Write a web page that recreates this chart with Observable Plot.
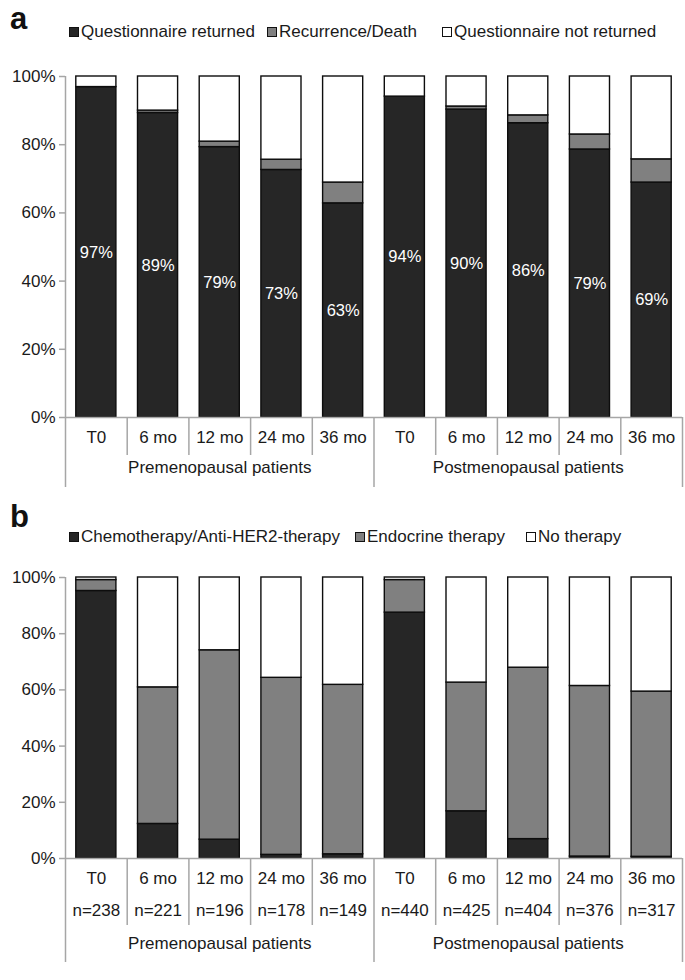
<!DOCTYPE html>
<html><head><meta charset="utf-8">
<script src="https://cdn.jsdelivr.net/npm/d3@7"></script>
<script src="https://cdn.jsdelivr.net/npm/@observablehq/plot@0.6"></script>
<style>
body{margin:0;background:#fff;font-family:"Liberation Sans",Arial,sans-serif;color:#1a1a1a;}
.panel{position:relative;width:685px;height:490px;overflow:hidden;}
.letter{position:absolute;font-weight:bold;font-size:31px;left:10px;line-height:30px;color:#111;}
.item{position:absolute;font-size:17px;line-height:18px;white-space:nowrap;}
.sw{display:inline-block;width:8px;height:8px;border:1.5px solid #111;margin-right:2px;vertical-align:0px;}
svg{display:block;position:absolute;left:0;top:0;}
</style>
</head><body>
<div id="pa" class="panel"></div>
<div id="pb" class="panel"></div>
<script>
// ---- data ----
const timepoints = ["T0", "6 mo", "12 mo", "24 mo", "36 mo"];
const groups = ["Premenopausal patients", "Postmenopausal patients"];

const seriesA = ["Questionnaire returned", "Recurrence/Death", "Questionnaire not returned"];
const returnedPre  = [96.9, 89.3, 79.3, 72.6, 62.8];
const recurrencePre  = [0, 0.7, 1.6, 3.0, 6.1];
const returnedPost = [94.1, 90.3, 86.3, 78.6, 68.9];
const recurrencePost = [0, 0.9, 2.3, 4.4, 6.8];

const seriesB = ["Chemotherapy/Anti-HER2-therapy", "Endocrine therapy", "No therapy"];
const chemoPre  = [95.2, 12.3, 6.7, 1.3, 1.5];
const endoPre   = [3.9, 48.6, 67.4, 63.0, 60.3];
const chemoPost = [87.5, 16.8, 6.9, 0.7, 0.6];
const endoPost  = [11.6, 45.8, 61.0, 60.7, 58.8];
const nPre  = [238, 221, 196, 178, 149];
const nPost = [440, 425, 404, 376, 317];

const yTicks = [0, 20, 40, 60, 80, 100];

// ---- styling ----
const fills = ["#262626", "#808080", "#ffffff"];
const axisGray = "#a6a6a6";
const font = {fontFamily: "Liberation Sans, Arial, sans-serif", fontSize: "17px", color: "#1a1a1a", background: "transparent"};

function buildRows(seriesNames, pre, post) {
  const rows = [];
  [pre, post].forEach((vals, g) => {
    timepoints.forEach((tp, t) => {
      const i = g * timepoints.length + t;
      const v0 = vals[0][t], v1 = vals[1][t];
      const parts = [v0, v1, Math.max(0, 100 - v0 - v1)];
      let acc = 0;
      parts.forEach((v, s) => {
        rows.push({i, g, tp, series: seriesNames[s], value: v, y1: acc, y2: acc + v});
        acc += v;
      });
    });
  });
  return rows;
}

const rowsA = buildRows(seriesA, [returnedPre, recurrencePre], [returnedPost, recurrencePost]);
const rowsB = buildRows(seriesB, [chemoPre, endoPre], [chemoPost, endoPost]);

const cats = [];
groups.forEach((gName, g) => timepoints.forEach((tp, t) => cats.push({i: g * timepoints.length + t, tp, g,
  n: (g === 0 ? nPre : nPost)[t]})));
const nCats = cats.length;
const innerSeps = d3.range(1, nCats).filter(k => k % timepoints.length !== 0);
const outerSeps = d3.range(0, nCats + 1, timepoints.length);

function chart({rows, series, top, zeroPx, outerPx, innerPx, rowsBelow, groupPx, height, labels}) {
  const pxPer = (zeroPx - top) / 100;
  const bottomVal = -(outerPx - zeroPx) / pxPer;
  const innerVal = -(innerPx - zeroPx) / pxPer;
  const marks = [
    Plot.rect(rows, {x1: d => d.i, x2: d => d.i + 1, y1: "y1", y2: "y2", fill: "series",
      stroke: "#0d0d0d", strokeWidth: 1.4, insetLeft: 10.8, insetRight: 10.8}),
    Plot.ruleX(innerSeps, {x: d => d, y1: 0, y2: innerVal, stroke: axisGray, strokeWidth: 1.5}),
    Plot.ruleX(outerSeps, {x: d => d, y1: bottomVal, y2: 0, stroke: axisGray, strokeWidth: 1.5}),
    Plot.ruleX([0], {x: d => d, y1: 0, y2: 100, stroke: axisGray, strokeWidth: 1.5}),
    Plot.ruleY([0], {y: d => d, x1: 0, x2: nCats, stroke: axisGray, strokeWidth: 1.5}),
    Plot.axisY(yTicks, {tickFormat: d => d + "%", tickSize: 6, tickPadding: 4, stroke: axisGray,
      strokeWidth: 1.5, fill: "#1a1a1a", fontSize: 17}),
    Plot.text(groups, {x: (d, k) => k * timepoints.length + timepoints.length / 2, y: 0, dy: groupPx,
      text: d => d, fontSize: 17, fill: "#1a1a1a"})
  ];
  rowsBelow.forEach(({key, dy}) => {
    marks.push(Plot.text(cats, {x: d => d.i + 0.5, y: 0, dy, text: key, fontSize: 17, fill: "#1a1a1a"}));
  });
  if (labels) marks.push(Plot.text(labels, {x: d => d.i + 0.5, y: d => d.v / 2, text: d => Math.round(d.v) + "%",
    fill: "white", fontSize: 16.5}));
  return Plot.plot({
    width: 685, height, marginTop: top, marginBottom: height - outerPx, marginLeft: 65, marginRight: 3,
    style: font,
    x: {type: "linear", domain: [0, nCats], axis: null},
    y: {domain: [bottomVal, 100], axis: null},
    color: {domain: series, range: fills},
    marks
  });
}

function legend(container, series, lefts, top) {
  series.forEach((s, k) => {
    const el = document.createElement("div");
    el.className = "item";
    el.style.left = lefts[k] + "px";
    el.style.top = top + "px";
    el.innerHTML = `<span class="sw" style="background:${fills[k]}"></span>${s}`;
    container.appendChild(el);
  });
}
function letter(container, txt, top) {
  const el = document.createElement("div");
  el.className = "letter"; el.style.top = top + "px"; el.textContent = txt;
  container.appendChild(el);
}

// Panel a
const pa = document.getElementById("pa");
const labelsA = cats.map(c => ({i: c.i, v: (c.g === 0 ? returnedPre : returnedPost)[c.i % timepoints.length]}));
pa.appendChild(chart({rows: rowsA, series: seriesA, top: 76, zeroPx: 417, outerPx: 487, innerPx: 455,
  rowsBelow: [{key: "tp", dy: 20}], groupPx: 50, height: 490, labels: labelsA}));
letter(pa, "a", 4);
legend(pa, seriesA, [69, 267, 442], 23);

// Panel b
const pb = document.getElementById("pb");
pb.appendChild(chart({rows: rowsB, series: seriesB, top: 87, zeroPx: 368, outerPx: 472, innerPx: 435,
  rowsBelow: [{key: "tp", dy: 20}, {key: d => "n=" + d.n, dy: 52}], groupPx: 85, height: 490}));
letter(pb, "b", 12);
legend(pb, seriesB, [69, 355, 526], 38);
</script>
</body></html>
